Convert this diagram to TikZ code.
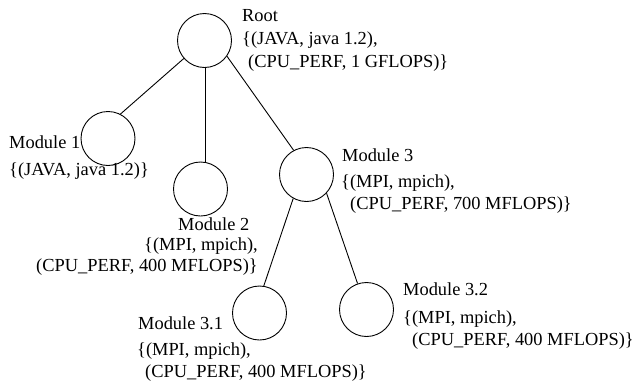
\documentclass[tikz,border=0pt]{standalone}
\usepackage{fontspec}
\setmainfont{Liberation Serif}
\begin{document}
\begin{tikzpicture}[x=1pt,y=-1pt,
  mod/.style={circle,draw,line width=0.9pt,minimum size=54pt,inner sep=0pt},
  edge/.style={line width=0.9pt},
  lbl/.style={inner sep=0pt,font=\fontsize{18.4}{22}\selectfont},
  lw/.style={lbl,anchor=base west},
  le/.style={lbl,anchor=base east}]
\useasboundingbox (0,0) rectangle (637,386);
% modules
\node[mod] (root) at (204.5,40.5) {};
\node[mod] (m1) at (108,138.5) {};
\node[mod] (m2) at (200.5,189) {};
\node[mod] (m3) at (306.5,174.5) {};
\node[mod] (m31) at (259.5,313) {};
\node[mod] (m32) at (366.5,309.5) {};
% edges
\draw[edge] (root.-139) -- (m1.63);
\draw[edge] (root.-88) -- (root.-88 |- m2.north);
\draw[edge] (root.-35) -- (m3.118);
\draw[edge] (m3.-119) -- (m31.81);
\draw[edge] (m3.-43) -- (m32.109);
% labels
\node[lw] (tr1) at (242,21) {Root};
\node[lw] (tr2) at (242,44) {\{(JAVA, java 1.2),};
\node[lw] (tr3) at (248,67) {(CPU\_PERF, 1 GFLOPS)\}};
\node[lw] (t11) at (9,148) {Module 1};
\node[lw] (t12) at (9,175) {\{(JAVA, java 1.2)\}};
\node[lw] (t21) at (178,230) {Module 2};
\node[le] (t22) at (258,250) {\{(MPI, mpich),};
\node[le] (t23) at (258,271) {(CPU\_PERF, 400 MFLOPS)\}};
\node[lw] (t31) at (342,161) {Module 3};
\node[lw] (t32) at (341,187) {\{(MPI, mpich),};
\node[lw] (t33) at (350,209) {(CPU\_PERF, 700 MFLOPS)\}};
\node[lw] (t311) at (138,329) {Module 3.1};
\node[lw] (t312) at (137,355) {\{(MPI, mpich),};
\node[lw] (t313) at (145,377) {(CPU\_PERF, 400 MFLOPS)\}};
\node[lw] (t321) at (403,295) {Module 3.2};
\node[lw] (t322) at (403,323) {\{(MPI, mpich),};
\node[lw] (t323) at (412,345) {(CPU\_PERF, 400 MFLOPS)\}};
\end{tikzpicture}
\end{document}
